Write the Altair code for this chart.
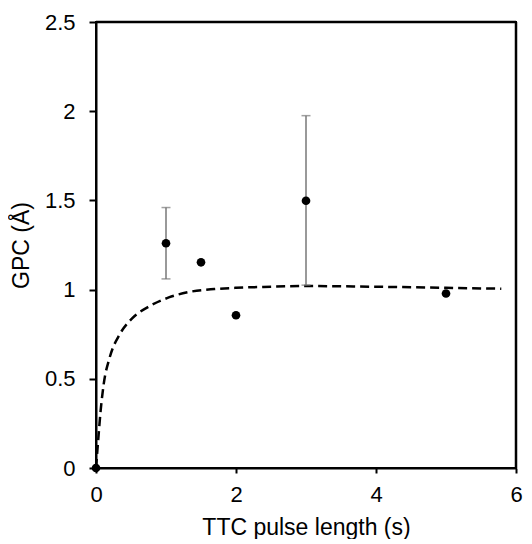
import altair as alt
import pandas as pd

# measured points
px = [0, 1, 1.5, 2, 3, 5]
py = [0, 1.26, 1.153, 0.856, 1.498, 0.978]

# error bars
ex = [1, 3]
elo = [1.06, 1.025]
ehi = [1.46, 1.975]

# fitted (dashed) curve
cx = [0, 0.03, 0.066, 0.11, 0.196, 0.34, 0.52, 0.76, 1.04, 1.32, 1.69, 2.0, 2.39, 3.0, 4.0, 5.0, 5.79]
cy = [0, 0.15, 0.32, 0.47, 0.62, 0.75, 0.84, 0.906, 0.956, 0.986, 1.003, 1.01, 1.015, 1.02, 1.016, 1.01, 1.005]

xticks = [0, 2, 4, 6]
yticks = [0, 0.5, 1, 1.5, 2, 2.5]

# plot frame: top edge (x from 0 to 6 at y=2.5) and right edge (x=6, y from 0 to 2.5)
top_x = [0]
top_x2 = [6]
top_y = [2.5]
right_x = [6]
right_y = [0]
right_y2 = [2.5]

FONT = "Liberation Sans"
FS = 22
TFS = 23

pts = pd.DataFrame({"x": px, "y": py})
err = pd.DataFrame({"x": ex, "lo": elo, "hi": ehi})
cur = pd.DataFrame({"x": cx, "y": cy})
top_df = pd.DataFrame({"x": top_x, "x2": top_x2, "y": top_y})
right_df = pd.DataFrame({"x": right_x, "y": right_y, "y2": right_y2})

xscale = alt.Scale(domain=[0, 6], nice=False, zero=False)
yscale = alt.Scale(domain=[0, 2.5], nice=False, zero=False)

xaxis = alt.Axis(values=xticks, title="TTC  pulse length (s)", grid=False, format="~g",
                 labelFlush=False, labelOverlap=False,
                 tickSize=5, tickWidth=2, tickColor="black",
                 domainColor="black", domainWidth=2,
                 labelFont=FONT, labelFontSize=FS, labelColor="black", labelPadding=11,
                 titleFont=FONT, titleFontSize=TFS, titleFontWeight="normal",
                 titleColor="black", titlePadding=11)
yaxis = alt.Axis(values=yticks, title="GPC (Å)", grid=False, format="~g",
                 labelFlush=False, labelOverlap=False,
                 tickSize=7, tickWidth=2, tickColor="black",
                 domainColor="black", domainWidth=2,
                 labelFont=FONT, labelFontSize=FS, labelColor="black", labelPadding=14,
                 titleFont=FONT, titleFontSize=TFS, titleFontWeight="normal",
                 titleColor="black", titlePadding=11)

curve = alt.Chart(cur).mark_line(color="black", strokeWidth=2.5, strokeDash=[9, 5],
                                 interpolate="monotone", clip=False).encode(
    x=alt.X("x:Q", scale=xscale, axis=xaxis),
    y=alt.Y("y:Q", scale=yscale, axis=yaxis),
)

top_edge = alt.Chart(top_df).mark_rule(color="black", strokeWidth=2.5).encode(
    x="x:Q", x2="x2:Q", y="y:Q")
right_edge = alt.Chart(right_df).mark_rule(color="black", strokeWidth=2.5).encode(
    x="x:Q", y="y:Q", y2="y2:Q")

rules = alt.Chart(err).mark_rule(color="#777777", strokeWidth=1.5).encode(
    x="x:Q", y="lo:Q", y2="hi:Q")
caps_hi = alt.Chart(err).mark_tick(color="#777777", thickness=1.5, size=9,
                                   orient="horizontal").encode(x="x:Q", y="hi:Q")
caps_lo = alt.Chart(err).mark_tick(color="#777777", thickness=1.5, size=9,
                                   orient="horizontal").encode(x="x:Q", y="lo:Q")

points = alt.Chart(pts).mark_point(filled=True, color="black", size=75,
                                   opacity=1, clip=False).encode(x="x:Q", y="y:Q")

chart = alt.layer(curve, top_edge, right_edge, rules, caps_hi, caps_lo, points).properties(
    width=420, height=446, background="white",
    padding={"left": 2, "top": 3, "right": 0, "bottom": 0},
).configure_view(stroke="black", strokeWidth=2)

chart.save("out.html", embed_options={"renderer": "svg", "actions": False})
